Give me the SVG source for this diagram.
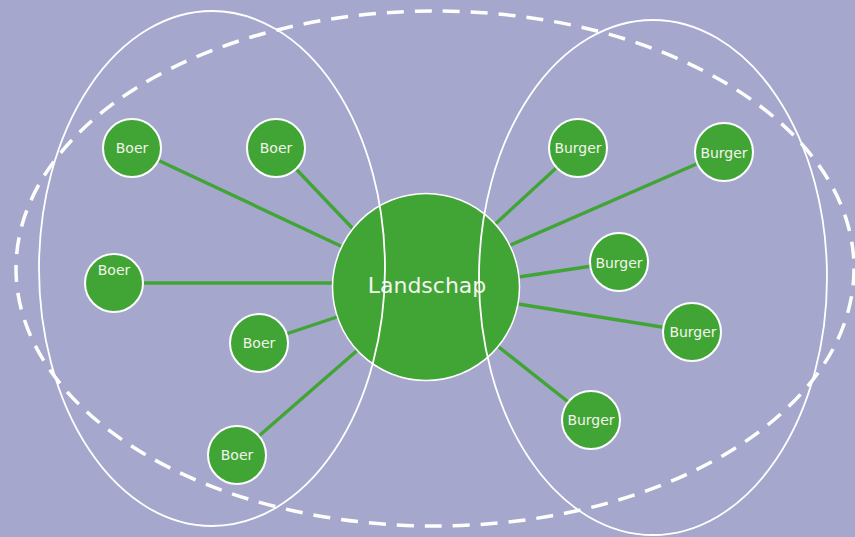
<svg xmlns="http://www.w3.org/2000/svg" width="855" height="537" viewBox="0 0 855 537">
<style>
.node{fill:#41A535;stroke:#fff;stroke-width:2}
.hub{fill:#41A535;stroke:#fff;stroke-width:1.5}
.lbl{font-family:"DejaVu Sans",Verdana,sans-serif;font-size:14px;fill:#F2F4EE;text-anchor:middle}
.big{font-family:"DejaVu Sans",Verdana,sans-serif;font-size:22px;fill:#F2F4EE;text-anchor:middle}
.edge{stroke:#41A535;stroke-width:3.4;fill:none}
.set{fill:none;stroke:#fff;stroke-width:1.8}
.dash{fill:none;stroke:#fff;stroke-width:3.5;stroke-dasharray:17 11}
</style>
<rect width="855" height="537" fill="#A6A7CD"/>
<g id="connectors">
<line class="edge" x1="132" y1="148" x2="345" y2="248"/>
<line class="edge" x1="276" y1="148" x2="356" y2="232"/>
<line class="edge" x1="114" y1="283" x2="340" y2="283"/>
<line class="edge" x1="259" y1="343" x2="340" y2="316"/>
<line class="edge" x1="237" y1="455" x2="360" y2="348"/>
<line class="edge" x1="578" y1="148" x2="492" y2="227"/>
<line class="edge" x1="724" y1="152" x2="506" y2="247"/>
<line class="edge" x1="619" y1="262" x2="512" y2="278"/>
<line class="edge" x1="693" y1="332" x2="512" y2="303"/>
<line class="edge" x1="591" y1="420" x2="495" y2="344"/>
</g>
<g id="node-landschap"><circle class="hub" cx="426" cy="287" r="93.5"/><text class="big" x="427" y="293">Landschap</text></g>
<g id="node-boer1"><circle class="node" cx="132" cy="148" r="29"/><text class="lbl" x="132" y="153">Boer</text></g>
<g id="node-boer2"><circle class="node" cx="276" cy="148" r="29"/><text class="lbl" x="276" y="153">Boer</text></g>
<g id="node-boer3"><circle class="node" cx="114" cy="283" r="29"/><text class="lbl" x="114" y="275">Boer</text></g>
<g id="node-boer4"><circle class="node" cx="259" cy="343" r="29"/><text class="lbl" x="259" y="348">Boer</text></g>
<g id="node-boer5"><circle class="node" cx="237" cy="455" r="29"/><text class="lbl" x="237" y="460">Boer</text></g>
<g id="node-burger1"><circle class="node" cx="578" cy="148" r="29"/><text class="lbl" x="578" y="153">Burger</text></g>
<g id="node-burger2"><circle class="node" cx="724" cy="152" r="29"/><text class="lbl" x="724" y="158">Burger</text></g>
<g id="node-burger3"><circle class="node" cx="619" cy="262" r="29"/><text class="lbl" x="619" y="268">Burger</text></g>
<g id="node-burger4"><circle class="node" cx="692" cy="332" r="29"/><text class="lbl" x="693" y="337">Burger</text></g>
<g id="node-burger5"><circle class="node" cx="591" cy="420" r="29"/><text class="lbl" x="591" y="425">Burger</text></g>
<g id="sets">
<ellipse class="set" cx="212" cy="268.5" rx="173" ry="257.5"/>
<ellipse class="set" cx="653" cy="277.5" rx="174" ry="257.5"/>
<ellipse class="dash" cx="435" cy="268.5" rx="419" ry="257.5"/>
</g>
</svg>
